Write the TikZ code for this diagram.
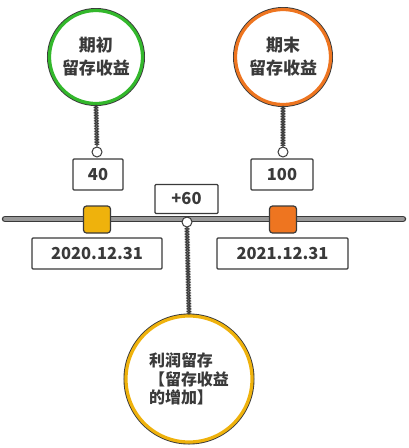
\documentclass[tikz,border=0pt]{standalone}
\usepackage{fontspec}
\setmainfont{Noto Sans CJK SC}
\usetikzlibrary{decorations.pathmorphing}
\definecolor{cgreen}{HTML}{33B82C}
\definecolor{corange}{HTML}{EE7520}
\definecolor{cyellow}{HTML}{EFB20C}
\definecolor{ink}{HTML}{3A3A3A}
\tikzset{
  bigcirc/.style={circle, fill=white, line width=3.2pt, align=center, inner sep=0pt,
    preaction={draw=ink, line width=5pt}, font=\bfseries\fontsize{17}{23}\selectfont, text=ink},
  strand/.style={draw=ink, line width=0.8pt, decorate,
    decoration={zigzag, segment length=3.2pt, amplitude=1.8pt}},
  ring/.style={circle, draw=ink, fill=white, line width=1pt, minimum size=10pt, inner sep=0pt},
  valbox/.style={rectangle, draw=ink, fill=white, line width=1.3pt, rounded corners=1pt,
    font=\bfseries\fontsize{16.5}{18}\selectfont, text=ink, inner sep=0pt},
  marker/.style={rectangle, draw=ink, line width=1.2pt, rounded corners=3pt,
    minimum size=27pt, inner sep=0pt}
}
\begin{document}
\begin{tikzpicture}[x=1pt,y=-1pt]
\useasboundingbox (0,0) rectangle (408,448);
% timeline bar
\draw[ink, line width=6.5pt, line cap=round] (5,219) -- (403,219);
\draw[black!40, line width=3.6pt, line cap=round] (5,219) -- (403,219);
% top circles
\node[bigcirc, draw=cgreen, minimum size=93pt] (g) at (96,57) {期初\\留存收益};
\node[bigcirc, draw=corange, minimum size=95pt] (o) at (283,57) {期末\\留存收益};
% small rings
\node[ring] (rg) at (97,152) {};
\node[ring] (ro) at (283,152) {};
% chains
\draw[strand] (g.south) -- (rg.north);
\draw[strand, decoration={mirror}] (g.south) -- (rg.north);
\draw[strand] (o.south) -- (ro.north);
\draw[strand, decoration={mirror}] (o.south) -- (ro.north);
% value boxes
\node[valbox, minimum width=50pt, minimum height=31pt] (v40) at (98,174.5) {40};
\node[valbox, minimum width=62pt, minimum height=31pt] (v100) at (282,174.5) {100};
\node[valbox, minimum width=63pt, minimum height=29pt] (v60) at (186.5,199) {+60};
% markers
\node[marker, fill=cyellow] (m1) at (97,219.5) {};
\node[marker, fill=corange] (m2) at (283,219.5) {};
% date boxes
\node[valbox, minimum width=130pt, minimum height=31pt] (d1) at (97,253.5) {2020.12.31};
\node[valbox, minimum width=131pt, minimum height=31pt] (d2) at (282.5,253.5) {2021.12.31};
% bottom circle and chain
\node[ring] (rb) at (187,222) {};
\node[bigcirc, draw=cyellow, minimum size=126pt, font=\bfseries\fontsize{16}{18.5}\selectfont, align=left] (b) at (189,379) {利润留存\\【留存收益\\的增加】};
\draw[strand] (rb.south) -- (b.north);
\draw[strand, decoration={mirror}] (rb.south) -- (b.north);
\end{tikzpicture}
\end{document}
